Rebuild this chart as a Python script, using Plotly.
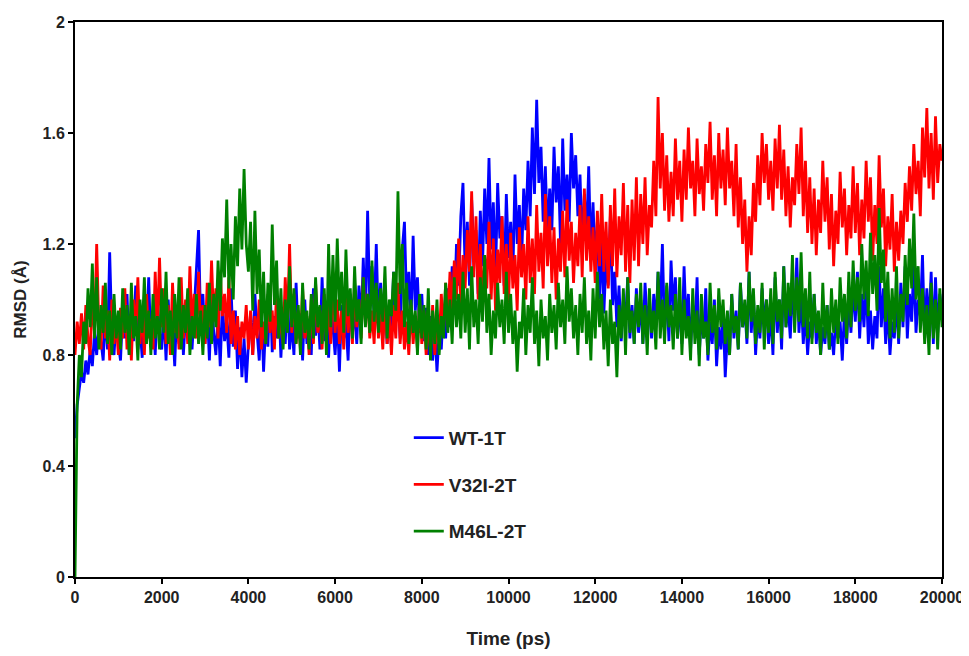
import plotly.graph_objects as go

step_ps = 50

wt_1t = [
    0.50, 0.62, 0.68, 0.74, 0.70, 0.78, 0.73, 0.82, 0.76, 0.88, 0.80, 0.92, 0.85, 0.78, 0.95, 0.82, 1.17, 0.88, 0.80, 0.93,
    0.84, 0.78, 0.96, 0.86, 1.02, 0.80, 0.92, 0.85, 1.05, 0.82, 0.90, 0.79, 0.98, 0.87, 1.08, 0.83, 0.94, 0.80, 0.99, 0.88,
    0.82, 0.96, 0.78, 1.00, 0.86, 0.92, 0.76, 0.98, 0.84, 1.03, 0.80, 0.94, 0.88, 1.05, 0.82, 0.96, 1.12, 1.25, 0.90, 1.02,
    0.84, 0.97, 0.78, 1.01, 0.88, 0.80, 0.95, 0.76, 0.99, 0.85, 0.92, 0.79, 1.04, 0.83, 0.96, 0.75, 0.90, 0.72, 0.86, 0.70,
    0.84, 0.95, 0.80, 1.02, 0.88, 0.78, 0.97, 0.74, 0.92, 0.83, 1.05, 0.81, 0.94, 0.86, 1.00, 0.79, 0.96, 0.84, 1.03, 0.82,
    0.92, 0.80, 1.06, 0.86, 0.95, 0.78, 1.00, 0.84, 0.93, 0.80, 1.04, 0.87, 0.97, 0.82, 1.08, 0.85, 0.94, 0.79, 1.00, 0.88,
    0.80, 0.95, 0.74, 0.98, 0.86, 0.92, 0.78, 1.02, 0.88, 0.96, 0.84, 1.05, 0.90, 1.15, 0.92, 1.32, 0.98, 1.12, 0.94, 1.20,
    0.90, 1.06, 0.86, 1.00, 0.84, 0.96, 0.88, 1.10, 0.92, 1.03, 0.86, 1.18, 1.28, 0.98, 1.10, 0.90, 1.23, 0.96, 1.08, 0.88,
    1.02, 0.85, 0.97, 0.80, 0.94, 0.78, 0.90, 0.74, 0.88, 0.82, 0.98, 0.86, 1.04, 0.90, 1.12, 0.95, 1.20, 1.05, 1.30, 1.42,
    1.10, 1.28, 1.05, 1.36, 1.15, 1.25, 1.02, 1.32, 1.12, 1.40, 1.20, 1.51, 1.18, 1.35, 1.08, 1.42, 1.22, 1.30, 1.05, 1.38,
    1.15, 1.28, 1.08, 1.45, 1.20, 1.34, 1.12, 1.40, 1.25, 1.50, 1.30, 1.62, 1.38, 1.72, 1.42, 1.55, 1.28, 1.48, 1.22, 1.40,
    1.25, 1.55, 1.35, 1.48, 1.20, 1.58, 1.32, 1.45, 1.28, 1.60, 1.40, 1.52, 1.30, 1.45, 1.18, 1.38, 1.22, 1.48, 1.15, 1.35,
    1.12, 1.28, 1.00, 1.22, 0.95, 1.15, 1.05, 1.30, 0.98, 1.10, 0.90, 1.05, 0.85, 1.00, 0.92, 1.08, 0.86, 0.98, 0.84, 1.04,
    0.88, 1.00, 0.84, 1.06, 0.92, 0.98, 0.86, 1.02, 0.90, 1.10, 0.94, 1.20, 0.88, 1.05, 0.85, 1.14, 0.96, 1.08, 0.86, 1.00,
    0.84, 1.12, 0.90, 1.02, 0.82, 0.98, 0.88, 1.08, 0.80, 0.95, 0.86, 1.04, 0.78, 0.92, 0.84, 1.00, 0.76, 0.90, 0.82, 0.96,
    0.72, 0.88, 0.80, 1.02, 0.86, 0.96, 0.82, 1.06, 0.90, 0.98, 0.84, 1.10, 0.88, 1.02, 0.80, 0.95, 0.86, 1.04, 0.90, 1.00,
    0.84, 0.96, 0.80, 1.08, 0.88, 1.00, 0.82, 1.12, 0.90, 0.98, 0.86, 1.05, 0.92, 1.15, 0.88, 1.02, 0.84, 0.96, 0.80, 0.92,
    0.86, 1.02, 0.84, 0.94, 0.80, 0.90, 0.84, 0.98, 0.82, 0.88, 0.80, 0.94, 0.86, 0.92, 0.78, 0.96, 0.84, 1.00, 0.88, 1.06,
    0.92, 1.10, 0.86, 1.02, 0.90, 1.08, 0.84, 0.96, 0.82, 0.94, 0.86, 1.12, 0.90, 1.04, 0.84, 0.98, 0.80, 0.92, 0.86, 1.00,
    0.84, 1.06, 0.90, 1.12, 0.86, 1.02, 0.92, 1.14, 0.88, 1.00, 0.94, 1.16, 0.86, 1.04, 0.90, 1.10, 0.84, 1.08, 0.88, 1.02,
    0.95,
]

v32i_2t = [
    0.80, 0.92, 0.84, 0.95, 0.82, 0.98, 0.86, 0.80, 1.02, 0.88, 1.20, 0.90, 0.82, 1.05, 0.86, 0.96, 0.78, 1.00, 0.84, 0.92,
    0.80, 0.97, 0.86, 1.04, 0.82, 0.94, 0.78, 1.00, 0.88, 1.08, 0.84, 0.96, 0.80, 1.02, 0.86, 0.93, 0.82, 1.10, 0.88, 1.15,
    0.90, 1.04, 0.84, 0.98, 0.80, 1.06, 0.88, 0.96, 0.82, 1.08, 0.86, 1.00, 0.84, 1.12, 0.90, 1.02, 0.86, 1.10, 0.88, 0.98,
    0.84, 1.06, 0.90, 1.14, 0.92, 1.04, 0.86, 1.10, 0.94, 1.02, 0.88, 1.08, 0.84, 0.96, 0.82, 0.94, 0.80, 0.92, 0.86, 0.98,
    0.82, 0.96, 0.80, 0.94, 0.86, 1.00, 0.82, 0.92, 0.84, 1.02, 0.88, 0.96, 0.82, 1.04, 0.86, 0.94, 0.84, 1.08, 0.90, 1.20,
    0.88, 1.02, 0.84, 0.96, 0.82, 1.04, 0.86, 0.94, 0.80, 1.00, 0.84, 1.06, 0.88, 0.96, 0.82, 1.02, 0.86, 0.98, 0.84, 1.10,
    0.88, 1.00, 0.84, 0.96, 0.82, 1.04, 0.88, 0.98, 0.84, 1.06, 0.90, 1.00, 0.86, 1.08, 0.92, 1.02, 0.86, 0.96, 0.84, 1.04,
    0.86, 0.96, 0.82, 1.00, 0.84, 0.94, 0.80, 0.98, 0.86, 1.06, 0.84, 0.96, 0.82, 0.92, 0.80, 0.98, 0.84, 0.94, 0.82, 1.00,
    0.84, 0.96, 0.80, 0.92, 0.82, 0.98, 0.80, 0.94, 0.84, 1.02, 0.88, 1.06, 0.92, 1.10, 0.96, 1.14, 1.00, 1.22, 0.98, 1.16,
    1.04, 1.25, 1.10, 1.39, 1.08, 1.30, 1.00, 1.20, 0.96, 1.16, 1.04, 1.28, 1.00, 1.22, 0.96, 1.18, 1.06, 1.30, 1.02, 1.20,
    0.98, 1.24, 1.04, 1.16, 0.96, 1.26, 1.08, 1.20, 1.00, 1.30, 1.06, 1.22, 1.02, 1.34, 1.10, 1.24, 1.04, 1.38, 1.12, 1.30,
    1.06, 1.26, 1.00, 1.22, 1.10, 1.32, 1.08, 1.36, 1.14, 1.28, 1.06, 1.24, 1.12, 1.34, 1.08, 1.40, 1.14, 1.30, 1.10, 1.26,
    1.06, 1.32, 1.12, 1.38, 1.10, 1.28, 1.04, 1.34, 1.12, 1.40, 1.08, 1.30, 1.16, 1.42, 1.10, 1.34, 1.06, 1.36, 1.14, 1.44,
    1.12, 1.38, 1.20, 1.44, 1.16, 1.34, 1.26, 1.50, 1.30, 1.73, 1.40, 1.60, 1.32, 1.52, 1.28, 1.46, 1.30, 1.58, 1.36, 1.50,
    1.28, 1.54, 1.36, 1.62, 1.40, 1.50, 1.30, 1.58, 1.38, 1.48, 1.32, 1.56, 1.42, 1.64, 1.36, 1.52, 1.30, 1.60, 1.40, 1.54,
    1.34, 1.62, 1.40, 1.50, 1.30, 1.56, 1.26, 1.44, 1.20, 1.36, 1.10, 1.30, 1.16, 1.42, 1.28, 1.52, 1.34, 1.60, 1.42, 1.56,
    1.36, 1.50, 1.32, 1.58, 1.40, 1.63, 1.36, 1.54, 1.30, 1.48, 1.26, 1.44, 1.34, 1.56, 1.38, 1.62, 1.30, 1.50, 1.24, 1.44,
    1.20, 1.40, 1.16, 1.36, 1.24, 1.50, 1.28, 1.44, 1.18, 1.38, 1.12, 1.32, 1.20, 1.46, 1.26, 1.40, 1.16, 1.34, 1.22, 1.48,
    1.24, 1.42, 1.16, 1.36, 1.22, 1.50, 1.28, 1.44, 1.14, 1.34, 1.20, 1.52, 1.26, 1.40, 1.12, 1.30, 1.18, 1.38, 1.10, 1.28,
    1.14, 1.32, 1.20, 1.42, 1.28, 1.48, 1.32, 1.56, 1.38, 1.50, 1.30, 1.62, 1.44, 1.69, 1.40, 1.60, 1.36, 1.66, 1.42, 1.56,
    1.50,
]

m46l_2t = [
    0.00, 0.62, 0.80, 0.72, 0.92, 0.84, 1.04, 0.90, 1.13, 0.86, 1.08, 0.82, 0.98, 0.88, 1.06, 0.84, 0.96, 0.80, 1.02, 0.86,
    0.96, 0.82, 1.04, 0.88, 0.98, 0.80, 1.06, 0.86, 0.94, 0.78, 1.00, 0.88, 1.08, 0.84, 0.96, 0.80, 1.02, 0.86, 0.94, 0.82,
    1.04, 0.88, 1.10, 0.84, 0.96, 0.80, 1.02, 0.86, 1.08, 0.82, 0.98, 0.88, 1.04, 0.80, 0.94, 0.86, 1.02, 0.84, 0.96, 0.80,
    0.98, 0.86, 1.06, 0.84, 1.02, 0.90, 1.14, 0.96, 1.22, 1.08, 1.36, 1.04, 1.20, 1.00, 1.30, 1.12, 1.40, 1.18, 1.47, 1.20,
    1.10, 1.28, 0.96, 1.32, 1.02, 1.18, 0.90, 1.10, 0.84, 1.06, 0.92, 1.27, 0.98, 1.14, 0.86, 1.04, 0.82, 1.00, 0.88, 1.12,
    0.90, 1.04, 0.84, 0.98, 0.80, 1.06, 0.88, 0.96, 0.82, 1.02, 0.86, 1.08, 0.90, 0.98, 0.84, 1.04, 0.80, 1.20, 0.90, 1.16,
    0.92, 1.22, 0.96, 1.10, 0.88, 1.18, 0.94, 1.04, 0.86, 1.12, 0.92, 1.00, 0.84, 1.08, 0.90, 1.02, 0.88, 1.14, 0.92, 1.06,
    0.88, 1.04, 0.92, 1.12, 0.86, 1.00, 0.94, 1.10, 0.96, 1.39, 1.02, 1.20, 0.90, 1.06, 0.84, 1.00, 0.88, 0.96, 0.80, 1.02,
    0.86, 0.98, 0.82, 1.04, 0.78, 0.96, 0.84, 1.00, 0.80, 0.94, 0.86, 1.06, 0.88, 1.00, 0.84, 1.08, 0.90, 1.02, 0.86, 1.10,
    0.88, 1.04, 0.82, 1.12, 0.90, 1.00, 0.84, 1.08, 0.92, 1.16, 0.88, 1.02, 0.80, 0.96, 0.86, 1.06, 0.90, 1.00, 0.84, 1.10,
    0.88, 1.02, 0.84, 0.96, 0.74, 0.92, 0.86, 1.04, 0.80, 0.98, 0.88, 1.08, 0.84, 0.96, 0.76, 1.00, 0.86, 0.94, 0.78, 1.02,
    0.88, 0.98, 0.82, 1.06, 0.90, 1.00, 0.84, 1.12, 0.92, 1.04, 0.86, 0.98, 0.80, 1.02, 0.88, 1.08, 0.84, 0.96, 0.78, 1.04,
    0.86, 1.10, 0.90, 1.02, 0.82, 0.96, 0.76, 1.00, 0.84, 0.92, 0.72, 0.98, 0.86, 1.04, 0.80, 1.08, 0.88, 0.96, 0.84, 1.02,
    0.90, 1.06, 0.84, 0.98, 0.80, 1.04, 0.88, 0.96, 0.82, 1.10, 0.86, 1.00, 0.84, 1.06, 0.90, 0.98, 0.82, 1.02, 0.86, 1.08,
    0.80, 1.00, 0.86, 0.94, 0.78, 1.04, 0.84, 0.96, 0.76, 1.02, 0.86, 0.92, 0.80, 1.06, 0.88, 0.98, 0.82, 1.04, 0.90, 1.00,
    0.84, 0.96, 0.80, 1.02, 0.88, 0.94, 0.82, 1.06, 0.90, 1.00, 0.86, 1.10, 0.92, 1.04, 0.84, 0.98, 0.88, 1.06, 0.82, 1.00,
    0.88, 1.04, 0.84, 1.10, 0.92, 1.00, 0.86, 1.12, 0.90, 1.06, 0.94, 1.16, 0.88, 1.08, 0.92, 1.17, 0.90, 1.04, 0.86, 1.10,
    0.84, 1.02, 0.88, 0.96, 0.80, 1.06, 0.86, 0.98, 0.82, 1.04, 0.88, 1.00, 0.84, 1.08, 0.92, 1.02, 0.86, 1.10, 0.90, 1.14,
    0.96, 1.08, 0.92, 1.20, 1.00, 1.14, 0.94, 1.24, 1.02, 1.16, 0.96, 1.33, 1.06, 1.18, 0.92, 1.10, 0.86, 1.04, 0.88, 1.12,
    0.86, 1.02, 0.92, 1.16, 0.98, 1.22, 1.04, 1.31, 1.00, 1.12, 0.88, 1.04, 0.84, 0.98, 0.80, 1.06, 0.86, 1.00, 0.82, 1.04,
    0.90,
]

series_names = ["WT-1T", "V32I-2T", "M46L-2T"]
series_values = [wt_1t, v32i_2t, m46l_2t]
series_colors = ["#0000FF", "#FF0000", "#008000"]

x_ticks = [0, 2000, 4000, 6000, 8000, 10000, 12000, 14000, 16000, 18000, 20000]
y_ticks = [0, 0.4, 0.8, 1.2, 1.6, 2]

fig = go.Figure()
for name, vals, col in zip(series_names, series_values, series_colors):
    times = [i * step_ps for i in range(len(vals))]
    fig.add_trace(go.Scatter(
        x=times, y=vals, mode="lines", name=name,
        line=dict(color=col, width=2.8),
        legendgroup=name,
    ))

tick_font = dict(family="Liberation Sans, Arial", size=16, color="#222222", weight="bold")

# page body has an 8px default margin, so the figure is sized to fit inside it
fig.update_layout(
    width=961, height=648,
    margin=dict(l=67, r=27, t=14, b=79),
    paper_bgcolor="white", plot_bgcolor="white",
    showlegend=True,
    legend=dict(
        x=0.385, y=0.285, xanchor="left", yanchor="top",
        bgcolor="rgba(0,0,0,0)",
        font=dict(family="Liberation Sans, Arial", size=19, color="#222222", weight="bold"),
        tracegroupgap=19,
        traceorder="grouped",
        itemwidth=30,
    ),
    xaxis=dict(
        range=[0, 20000], tickvals=x_ticks, ticktext=[str(v) for v in x_ticks],
        showline=True, linecolor="black", linewidth=2, mirror=True,
        ticks="outside", ticklen=5, tickwidth=1.5, tickcolor="black",
        showgrid=False, zeroline=False, automargin=False,
        tickfont=tick_font,
        title=dict(text="Time (ps)", standoff=26,
                   font=dict(family="Liberation Sans, Arial", size=19, color="#222222", weight="bold")),
    ),
    yaxis=dict(
        range=[0, 2], tickvals=y_ticks, ticktext=["0", "0.4", "0.8", "1.2", "1.6", "2"],
        showline=True, linecolor="black", linewidth=2, mirror=True,
        ticks="outside", ticklen=5, tickwidth=1.5, tickcolor="black",
        showgrid=False, zeroline=False, automargin=False,
        tickfont=tick_font,
        title=dict(text="RMSD (Å)", standoff=12,
                   font=dict(family="Liberation Sans, Arial", size=17, color="#222222", weight="bold")),
    ),
)

fig.write_html("out.html")
